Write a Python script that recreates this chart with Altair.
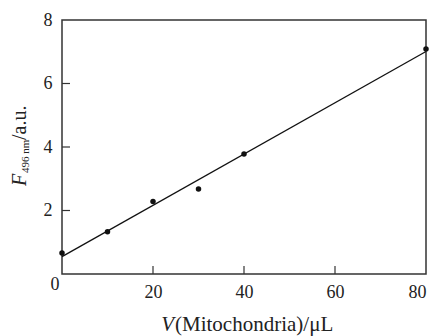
import altair as alt
import pandas as pd

# data
volume = [0, 10, 20, 30, 40, 80]
intensity = [0.66, 1.33, 2.28, 2.68, 3.78, 7.09]
x_tick_values = [20, 40, 60]
y_tick_values = [2, 4, 6]
x_label_values = [20, 40, 60, 80]
y_label_values = [2, 4, 6, 8]
zero_label = ["0"]
x_title_parts = ["V", "(Mitochondria)/\u03bcL"]
y_title_parts = ["F", "496 nm", "/a.u."]

W, H = 364, 254
FONT = "Liberation Serif"
INK = "#222222"

df = pd.DataFrame({"v": volume, "f": intensity})
xs = alt.Scale(domain=[0, 80], nice=False)
ys = alt.Scale(domain=[0, 8], nice=False)

base = alt.Chart(df)

line = base.transform_regression("v", "f", extent=[0, 80]).mark_line(
    color="#111111", strokeWidth=1.3, clip=False
).encode(
    x=alt.X("v:Q", scale=xs,
            axis=alt.Axis(values=x_label_values, ticks=False, domain=False, grid=False,
                          title=None, labelFont=FONT, labelFontSize=18, labelColor=INK,
                          labelPadding=9)),
    y=alt.Y("f:Q", scale=ys,
            axis=alt.Axis(values=y_label_values, ticks=False, domain=False, grid=False,
                          title=None, labelFont=FONT, labelFontSize=18, labelColor=INK,
                          labelPadding=10)),
)

points = base.mark_circle(size=30, color="#111111", opacity=1, clip=False).encode(
    x=alt.X("v:Q", scale=xs), y=alt.Y("f:Q", scale=ys)
)

xt = alt.Chart(pd.DataFrame({"t": x_tick_values})).mark_rule(color="#333333", strokeWidth=1.2).encode(
    x=alt.X("t:Q", scale=xs), y=alt.value(H), y2=alt.value(H - 8)
)
yt = alt.Chart(pd.DataFrame({"t": y_tick_values})).mark_rule(color="#333333", strokeWidth=1.2).encode(
    y=alt.Y("t:Q", scale=ys), x=alt.value(0), x2=alt.value(8)
)

zero = alt.Chart(pd.DataFrame({"v": [0], "f": [0], "s": zero_label})).mark_text(
    font=FONT, fontSize=18, color=INK, align="center", baseline="middle", dx=-7, dy=11
).encode(x=alt.X("v:Q", scale=xs), y=alt.Y("f:Q", scale=ys), text="s:N")

xt1 = alt.Chart(pd.DataFrame({"s": [x_title_parts[0]]})).mark_text(
    font=FONT, fontSize=21, fontStyle="italic", color=INK, align="right", baseline="alphabetic"
).encode(x=alt.value(112), y=alt.value(311), text="s:N")
xt2 = alt.Chart(pd.DataFrame({"s": [x_title_parts[1]]})).mark_text(
    font=FONT, fontSize=21, color=INK, align="left", baseline="alphabetic"
).encode(x=alt.value(113), y=alt.value(311), text="s:N")

yt1 = alt.Chart(pd.DataFrame({"s": [y_title_parts[0]]})).mark_text(
    font=FONT, fontSize=20, fontStyle="italic", color=INK, align="left", baseline="alphabetic", angle=270
).encode(x=alt.value(-36), y=alt.value(166), text="s:N")
yt2 = alt.Chart(pd.DataFrame({"s": [y_title_parts[1]]})).mark_text(
    font=FONT, fontSize=11, color=INK, align="left", baseline="alphabetic", angle=270
).encode(x=alt.value(-33), y=alt.value(153), text="s:N")
yt3 = alt.Chart(pd.DataFrame({"s": [y_title_parts[2]]})).mark_text(
    font=FONT, fontSize=20, color=INK, align="left", baseline="alphabetic", angle=270
).encode(x=alt.value(-36), y=alt.value(120), text="s:N")

chart = alt.layer(line, points, xt, yt, zero, xt1, xt2, yt1, yt2, yt3).properties(
    width=W, height=H,
    autosize=alt.AutoSizeParams(type="none"),
    padding={"left": 62, "top": 20, "right": 10, "bottom": 62},
    background="white",
).configure_view(stroke="#333333", strokeWidth=1.5)

chart.save("out.html", embed_options={"renderer": "svg", "actions": False})
